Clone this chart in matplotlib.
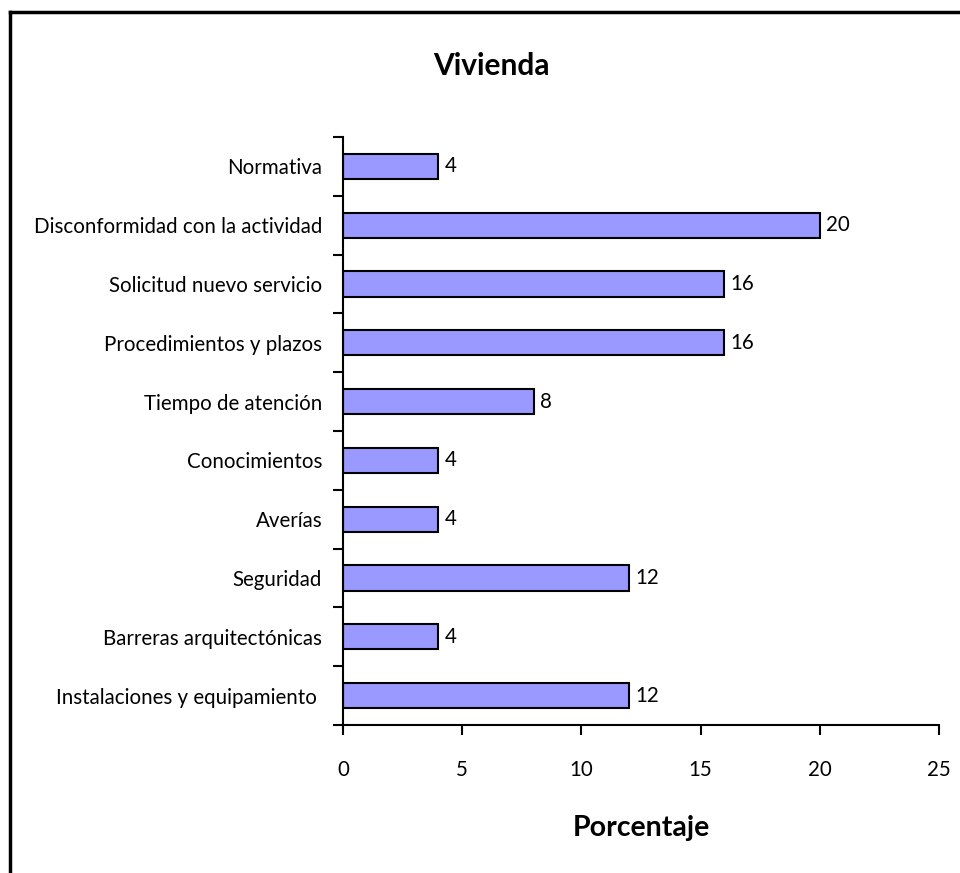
import matplotlib
matplotlib.use("Agg")
import matplotlib.pyplot as plt
from matplotlib.lines import Line2D

plt.rcParams["font.family"] = ["Lato", "DejaVu Sans"]

categorias = ["Normativa", "Disconformidad con la actividad", "Solicitud nuevo servicio",
              "Procedimientos y plazos", "Tiempo de atención", "Conocimientos", "Averías",
              "Seguridad", "Barreras arquitectónicas", "Instalaciones y equipamiento "]
valores = [4, 20, 16, 16, 8, 4, 4, 12, 4, 12]
xticks = [0, 5, 10, 15, 20, 25]

fig = plt.figure(figsize=(9.6, 8.73), dpi=100)
ax = fig.add_axes([343 / 960, 1 - 725 / 873, 596 / 960, 588 / 873])

n = len(categorias)
pos = [n - 1 - i for i in range(n)]
ax.barh(pos, valores, height=0.43, color="#9999FF", edgecolor="black", linewidth=1.5)
for p, v in zip(pos, valores):
    ax.text(v + 0.25, p, str(v), va="center", ha="left", fontsize=14.8)

ax.set_xlim(0, 25)
ax.set_ylim(-0.5, n - 0.5)
ax.set_xticks(xticks)
ax.set_xticklabels([str(t) for t in xticks], fontsize=14.8)
ax.tick_params(axis="x", direction="out", length=7, width=1.5, pad=18)

ax.set_yticks([i - 0.5 for i in range(n + 1)])
ax.set_yticklabels([])
ax.tick_params(axis="y", which="major", direction="out", length=7, width=1.5)
ax.set_yticks(pos, minor=True)
ax.set_yticklabels(categorias, minor=True, fontsize=14.8)
ax.tick_params(axis="y", which="minor", length=0, pad=15)

for s in ["top", "right"]:
    ax.spines[s].set_visible(False)
for s in ["left", "bottom"]:
    ax.spines[s].set_linewidth(1.5)

fig.text(491 / 960, 1 - 66 / 873, "Vivienda", ha="center", va="center",
         fontsize=21.5, fontweight="bold")
fig.text(641 / 960, 1 - 828 / 873, "Porcentaje", ha="center", va="center",
         fontsize=20.5, fontweight="bold")

# marco del gráfico (solo arriba e izquierda visibles)
fig.add_artist(Line2D([10 / 960, 10 / 960], [0, 1 - 12 / 873], color="black", linewidth=2.5,
                      transform=fig.transFigure))
fig.add_artist(Line2D([10 / 960, 1], [1 - 12 / 873, 1 - 12 / 873], color="black", linewidth=2.5,
                      transform=fig.transFigure))

fig.savefig("out.png", dpi=100)
